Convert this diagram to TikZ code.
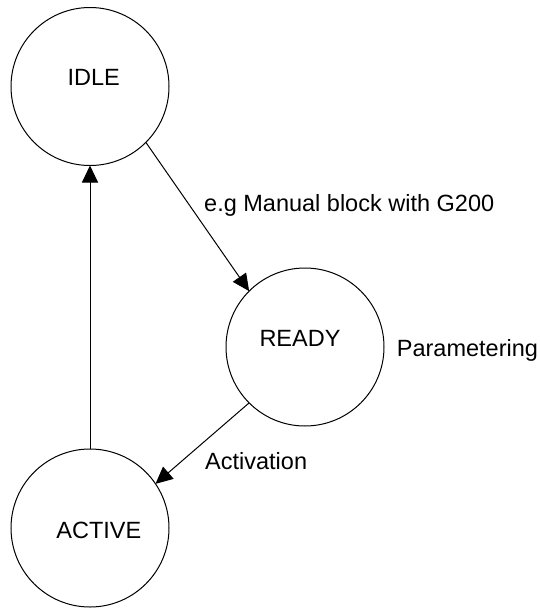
\documentclass[tikz,border=0pt]{standalone}
\usepackage{fontspec}
\setmainfont{Liberation Sans}
\usetikzlibrary{arrows.meta}
\begin{document}
\begin{tikzpicture}[x=1pt,y=-1pt,
  every node/.style={font=\fontsize{23.5}{28}\selectfont},
  statecircle/.style={circle,draw=black,line width=1pt,minimum size=158pt,inner sep=0pt,outer sep=0pt},
  txt/.style={inner sep=0pt,anchor=base west},
  trans/.style={draw=black,line width=1pt,-{Triangle[length=17pt,width=16pt]}}]
\useasboundingbox (0,0) rectangle (539,608);
\node[statecircle,label={[xshift=3.8pt,yshift=9pt]center:IDLE}] (idle) at (90,86.5) {};
\node[statecircle,label={[xshift=-5pt,yshift=9pt]center:READY}] (ready) at (305,347) {};
\node[statecircle,label={[xshift=8.8pt,yshift=-2pt]center:ACTIVE}] (active) at (90,528) {};
\draw[trans] (idle.-45) -- (ready.135);
\draw[trans] (ready.-135) -- (active.34);
\draw[trans] (active.90) -- (idle.-90);
\node[txt] (lab1) at (204,211.7) {e.g Manual block with G200};
\node[txt] (lab2) at (396.7,356.5) {Parametering};
\node[txt] (lab3) at (205,469) {Activation};
\end{tikzpicture}
\end{document}
